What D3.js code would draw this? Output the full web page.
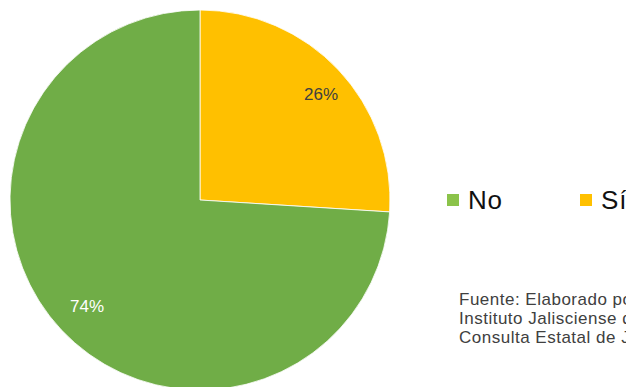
<!DOCTYPE html>
<html><head><meta charset="utf-8">
<script src="https://cdn.jsdelivr.net/npm/d3@7"></script>
<style>html,body{margin:0;padding:0;background:#fff;overflow:hidden}</style>
</head><body>
<svg id="c" width="626" height="387"></svg>
<script>
const categories = ["Sí", "No"];
const values = [26, 74];
const labels = ["26%", "74%"];
const colors = ["#FFC000", "#70AD47"];
const legendOrder = ["No", "Sí"];
const legendColors = {"No": "#8BC34A", "Sí": "#FFC000"};
const sourceLines = [
  "Fuente: Elaborado por el",
  "Instituto Jalisciense de",
  "Consulta Estatal de Jalisco"
];

const FONT = "'Liberation Sans', Arial, sans-serif";
const svg = d3.select("#c");
const cx = 200, cy = 200, r = 190;
const pie = d3.pie().sort(null).value(d => d)(values);
const arc = d3.arc().innerRadius(0).outerRadius(r);
const labelArc = d3.arc().innerRadius(155).outerRadius(155);
const g = svg.append("g").attr("transform", `translate(${cx},${cy})`);
g.selectAll("path").data(pie).join("path")
  .attr("d", arc).attr("fill", (d, i) => colors[i])
  .attr("stroke", "#fff").attr("stroke-width", 0.8);
g.selectAll("text").data(pie).join("text")
  .attr("transform", (d, i) => { const c = labelArc.centroid(d); return `translate(${c[0] + (i === 0 ? 8 : 0)},${c[1]})`; })
  .attr("text-anchor", "middle").attr("dy", "0.36em")
  .attr("font-family", FONT)
  .attr("font-size", 17)
  .attr("fill", (d, i) => i === 0 ? "#404040" : "#ffffff")
  .text((d, i) => labels[i]);

const lx = d3.scaleOrdinal().domain(legendOrder).range([447, 580]);
const lg = svg.append("g");
legendOrder.forEach(k => {
  lg.append("rect").attr("x", lx(k)).attr("y", 194).attr("width", 12).attr("height", 12).attr("fill", legendColors[k]);
  lg.append("text").attr("x", lx(k) + 21).attr("y", 209)
    .attr("font-family", FONT).attr("letter-spacing", 0.8)
    .attr("font-size", 26).attr("fill", "#111").text(k);
});

svg.append("g").selectAll("text").data(sourceLines).join("text")
  .attr("x", 459).attr("y", (d, i) => 305 + i * 19)
  .attr("font-family", FONT).attr("letter-spacing", 0.5)
  .attr("font-size", 17).attr("fill", "#404040").text(d => d);
</script>
</body></html>
